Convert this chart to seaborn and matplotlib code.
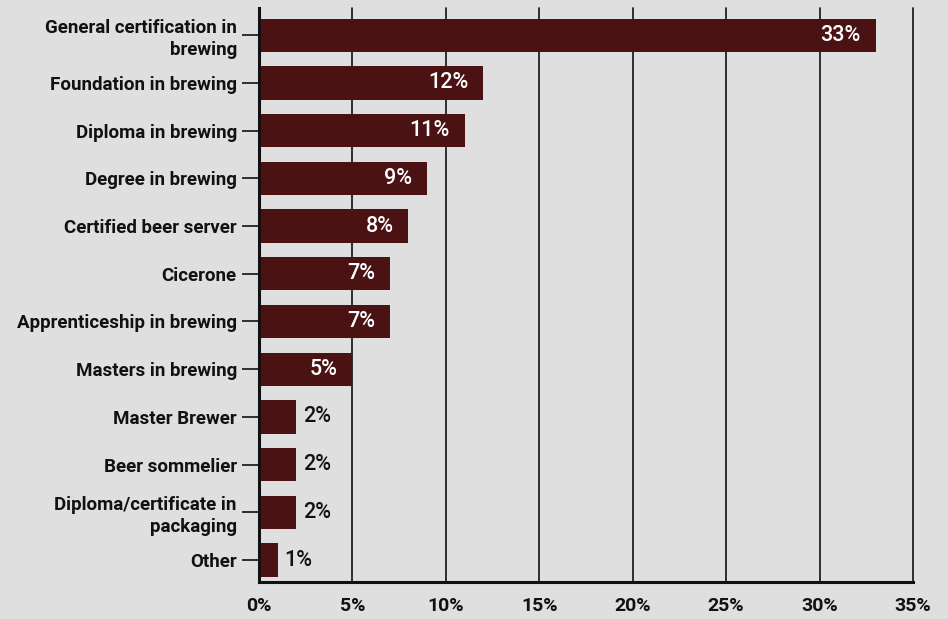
import matplotlib
matplotlib.use("Agg")
import matplotlib.pyplot as plt
import seaborn as sns
import pandas as pd

categories = [
    "General certification in\nbrewing",
    "Foundation in brewing",
    "Diploma in brewing",
    "Degree in brewing",
    "Certified beer server",
    "Cicerone",
    "Apprenticeship in brewing",
    "Masters in brewing",
    "Master Brewer",
    "Beer sommelier",
    "Diploma/certificate in\npackaging",
    "Other",
]
values = [33, 12, 11, 9, 8, 7, 7, 5, 2, 2, 2, 1]
x_ticks = [0, 5, 10, 15, 20, 25, 30, 35]
x_tick_labels = ["0%", "5%", "10%", "15%", "20%", "25%", "30%", "35%"]

df = pd.DataFrame({"qualification": categories, "share": values})

sns.set_theme(style="white")
plt.rcParams["font.family"] = ["Roboto", "DejaVu Sans"]

bg = "#dfdfe0"
bar_color = "#4b1214"
ink = "#111111"

fig = plt.figure(figsize=(9.48, 6.19), dpi=100, facecolor=bg)
ax = fig.add_axes([0.2732, 0.0598, 0.963 - 0.2732, 0.987 - 0.0598])
ax.set_facecolor(bg)

sns.barplot(data=df, x="share", y="qualification", color=bar_color,
            saturation=1, width=0.7, linewidth=0, ax=ax, zorder=3)

ax.set_xlim(0, 35)
ax.set_ylim(11.46, -0.57)
ax.set_xticks(x_ticks)
ax.set_xticklabels(x_tick_labels, fontsize=14, fontweight="bold", color=ink)
ax.set_xlabel("")
ax.set_ylabel("")

for x in x_ticks[1:]:
    ax.axvline(x, color=ink, lw=1.2, zorder=1, clip_on=False)

for side in ["top", "right"]:
    ax.spines[side].set_visible(False)
ax.spines["left"].set_linewidth(2.2)
ax.spines["left"].set_color(ink)
ax.spines["bottom"].set_linewidth(2.2)
ax.spines["bottom"].set_color(ink)
ax.spines["left"].set_zorder(4)

ax.tick_params(axis="y", length=12.5, width=1.2, color=ink, pad=3.5, left=True)
ax.tick_params(axis="x", length=0, pad=11)
for lbl in ax.get_yticklabels():
    lbl.set_fontsize(13.5)
    lbl.set_fontweight("bold")
    lbl.set_color(ink)
    lbl.set_linespacing(1.25)

for i, v in enumerate(values):
    if v >= 5:
        ax.text(v - 0.8, i, f"{v}%", ha="right", va="center", color="white",
                fontsize=15.5, fontweight="medium", zorder=5)
    else:
        ax.text(v + 0.35, i, f"{v}%", ha="left", va="center", color=ink,
                fontsize=15.5, fontweight="medium", zorder=5)

fig.savefig("out.png", dpi=100, facecolor=bg)
